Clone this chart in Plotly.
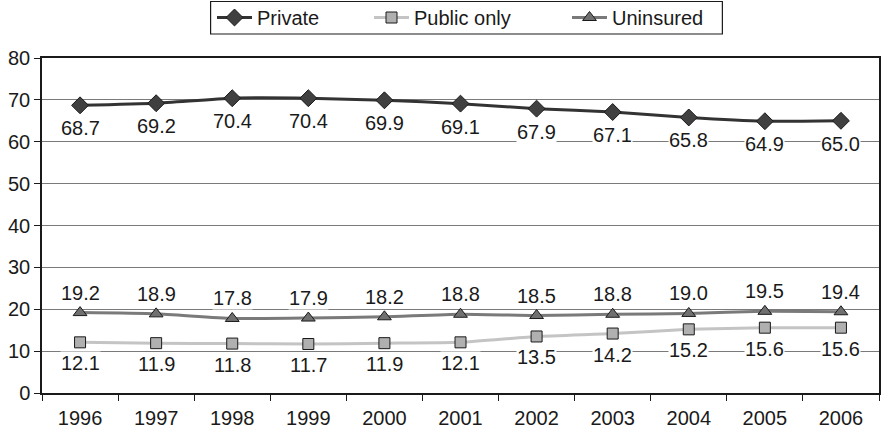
import plotly.graph_objects as go

years = ["1996", "1997", "1998", "1999", "2000", "2001", "2002", "2003", "2004", "2005", "2006"]
private = [68.7, 69.2, 70.4, 70.4, 69.9, 69.1, 67.9, 67.1, 65.8, 64.9, 65.0]
public_only = [12.1, 11.9, 11.8, 11.7, 11.9, 12.1, 13.5, 14.2, 15.2, 15.6, 15.6]
uninsured = [19.2, 18.9, 17.8, 17.9, 18.2, 18.8, 18.5, 18.8, 19.0, 19.5, 19.4]

FONT = "Liberation Sans, Arial, sans-serif"
FS = 20
W, H = 884, 432
M = dict(l=42, r=3, t=58, b=39)

# name, values, line colour, marker symbol, marker fill, marker size, label offset, legend entry width
series = [
    ("Private", private, "#333333", "diamond", "#404040", 13, -23, 107),
    ("Public only", public_only, "#c4c4c4", "square", "#b0b0b0", 11, -21, 148),
    ("Uninsured", uninsured, "#7a7a7a", "triangle-up", "#707070", 12, 20, 100),
]

fig = go.Figure()
annotations = []
for name, vals, lcol, sym, mcol, msize, shift, lw in series:
    fig.add_trace(go.Scatter(
        x=years, y=vals, name=name, mode="lines+markers",
        line=dict(color=lcol, width=3, shape="spline", smoothing=0.5),
        marker=dict(symbol=sym, size=msize, color=mcol,
                    line=dict(color="#1a1a1a", width=1)),
        legendwidth=lw,
    ))
    # value labels: annotations on a category axis are placed by category index
    for i, v in enumerate(vals):
        annotations.append(dict(
            x=i, y=v, xref="x", yref="y", text=f"{v:.1f}",
            showarrow=False, yshift=shift, bgcolor="white", borderpad=0,
            font=dict(family=FONT, size=FS, color="#1a1a1a"),
        ))

# legend frame drawn as a paper-referenced rectangle (pixel box converted to paper units)
pw = W - M["l"] - M["r"]
ph = H - M["t"] - M["b"]
def px_x(p):
    return (p - M["l"]) / pw
def px_y(p):
    return (H - M["b"] - p) / ph

fig.add_shape(type="rect", xref="paper", yref="paper",
              x0=px_x(211), x1=px_x(724), y0=px_y(34), y1=px_y(1.5),
              line=dict(color="#1a1a1a", width=1.2), fillcolor="rgba(0,0,0,0)")

fig.update_layout(
    width=W, height=H,
    margin=M,
    paper_bgcolor="white", plot_bgcolor="white",
    font=dict(family=FONT, size=FS, color="#1a1a1a"),
    showlegend=True,
    legend=dict(
        orientation="h", xref="container", yref="container",
        x=212 / W, xanchor="left", y=1 - 17.5 / H, yanchor="middle",
        borderwidth=0, bgcolor="rgba(0,0,0,0)",
        font=dict(family=FONT, size=FS, color="#1a1a1a"),
        itemwidth=35,
    ),
    annotations=annotations,
)
fig.update_xaxes(
    type="category", range=[-0.5, len(years) - 0.5], autorange=False,
    showgrid=False, tickangle=0,
    showline=True, linecolor="#1a1a1a", linewidth=1.5, mirror=True,
    ticks="outside", ticklen=6, tickcolor="#1a1a1a", tickson="boundaries",
    ticklabelstandoff=6,
    tickfont=dict(family=FONT, size=FS, color="#1a1a1a"),
)
fig.update_yaxes(
    range=[0, 80], dtick=10,
    showgrid=True, gridcolor="#7a7a7a", gridwidth=1,
    showline=True, linecolor="#1a1a1a", linewidth=1.5, mirror=True,
    ticks="outside", ticklen=6, tickcolor="#1a1a1a",
    tickfont=dict(family=FONT, size=FS, color="#1a1a1a"),
    zeroline=False,
)

fig.write_html("out.html")
